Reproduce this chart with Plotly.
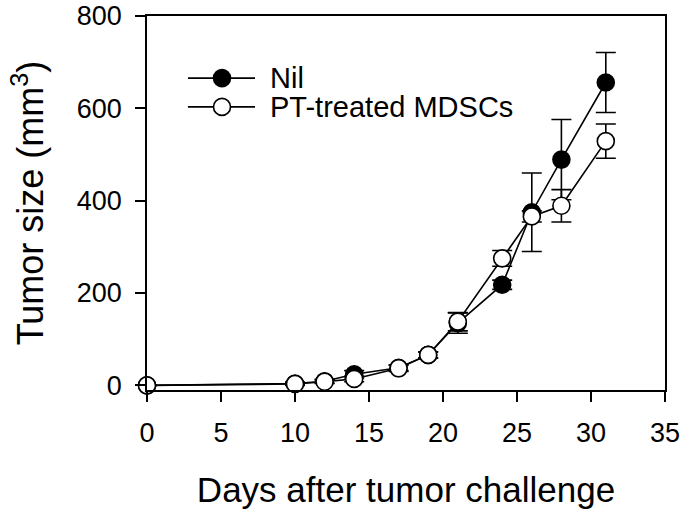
import plotly.graph_objects as go

days = [0, 10, 12, 14, 17, 19, 21, 24, 26, 28, 31]
nil = [0, 4, 9, 24, 38, 66, 135, 218, 375, 489, 656]
nil_err = [0, 3, 4, 8, 6, 6, 22, 10, 85, 87, 65]
pt = [0, 3, 8, 14, 37, 66, 138, 275, 366, 389, 529]
pt_err = [0, 3, 4, 6, 7, 7, 20, 17, 12, 35, 37]

series_names = ["Nil", "PT-treated MDSCs"]
x_ticks = [0, 5, 10, 15, 20, 25, 30, 35]
y_ticks = [0, 200, 400, 600, 800]

FONT = "Liberation Sans, Arial, sans-serif"

fig = go.Figure()
for name, vals, errs, fill in [(series_names[0], nil, nil_err, "black"),
                               (series_names[1], pt, pt_err, "white")]:
    fig.add_trace(go.Scatter(
        x=days, y=vals, name=name, mode="lines+markers",
        line=dict(color="black", width=1.6),
        marker=dict(size=17, color=fill, line=dict(color="black", width=1.6)),
        error_y=dict(type="data", array=errs, visible=True, color="black",
                     thickness=1.6, width=10),
        showlegend=False, cliponaxis=False,
    ))

# manual legend
legend_rows = [(0.834, "black", series_names[0]), (0.757, "white", series_names[1])]
for ypos, fill, label in legend_rows:
    fig.add_shape(type="line", xref="paper", yref="paper",
                  x0=0.079, x1=0.2085, y0=ypos, y1=ypos,
                  line=dict(color="black", width=1.6))
    fig.add_shape(type="circle", xref="paper", yref="paper",
                  xsizemode="pixel", ysizemode="pixel",
                  xanchor=0.1448, yanchor=ypos,
                  x0=-8.5, x1=8.5, y0=-8.5, y1=8.5,
                  fillcolor=fill, line=dict(color="black", width=1.6))
    fig.add_annotation(xref="paper", yref="paper", x=0.2336, y=ypos,
                       xanchor="left", yanchor="middle", showarrow=False,
                       text=label, font=dict(family=FONT, size=29, color="black"))

fig.update_layout(
    width=685, height=517,
    margin=dict(l=147, r=20, t=16, b=127),
    paper_bgcolor="white", plot_bgcolor="white",
    font=dict(family=FONT, color="black"),
    showlegend=False,
)
fig.update_xaxes(
    range=[0, 35], tickvals=x_ticks, ticks="outside", ticklen=10, tickwidth=1.6,
    tickcolor="black", showline=True, linecolor="black", linewidth=1.6, mirror=True,
    showgrid=False, zeroline=False, tickfont=dict(size=27), ticklabelstandoff=8,
    automargin=False,
    title=dict(text="Days after tumor challenge", font=dict(size=35), standoff=30),
)
fig.update_yaxes(
    range=[-10, 800], tickvals=y_ticks, ticks="outside", ticklen=10, tickwidth=1.6,
    tickcolor="black", showline=True, linecolor="black", linewidth=1.6, mirror=True,
    showgrid=False, zeroline=False, tickfont=dict(size=27), ticklabelstandoff=8,
    automargin=False,
    title=dict(text="Tumor size (mm<sup>3</sup>)", font=dict(size=36), standoff=22),
)

fig.write_html("out.html", config={"displayModeBar": False},
               post_script="document.body.style.margin='0px';document.body.style.overflow='hidden';")
